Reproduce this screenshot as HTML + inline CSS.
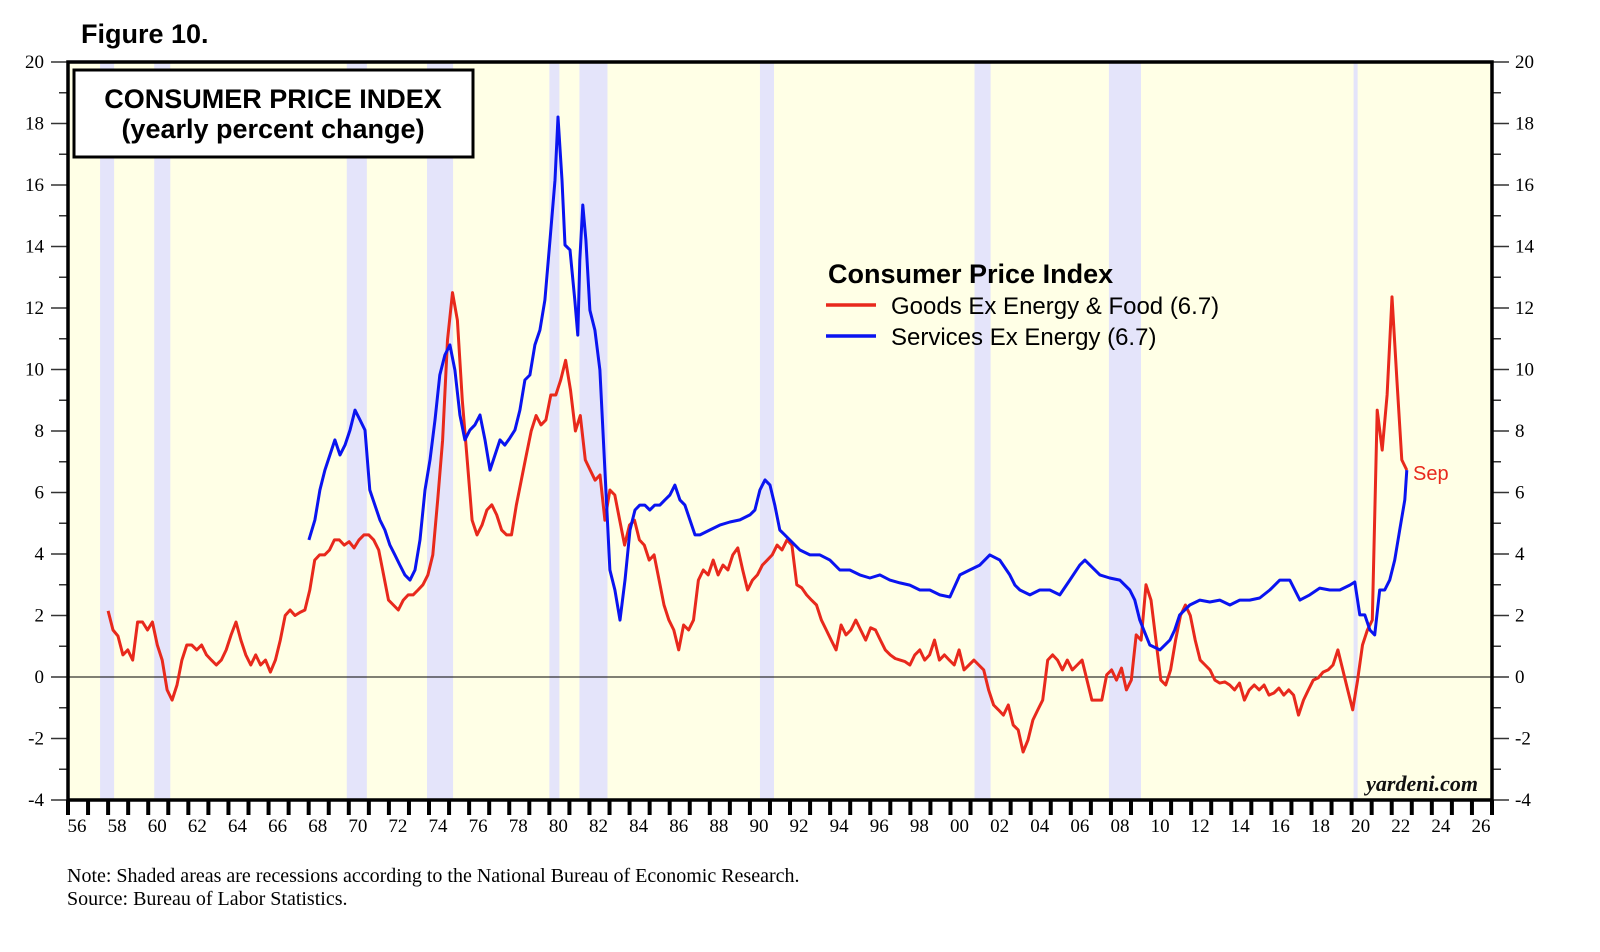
<!DOCTYPE html>
<html><head><meta charset="utf-8">
<style>
body{margin:0;background:#fff;}
svg{display:block;}
</style></head>
<body>
<svg id="chart" width="1600" height="952" viewBox="0 0 1600 952" xmlns="http://www.w3.org/2000/svg">
  <rect width="1600" height="952" fill="#fff"/>
  <text x="81" y="43" font-family="Liberation Sans, sans-serif" font-weight="bold" font-size="27">Figure 10.</text>
  <rect x="68" y="62" width="1424" height="738" fill="#ffffe6"/>
  <g id="recessions"></g>
  <line id="zeroline" x1="68" x2="1492" stroke="#000" stroke-width="1"/>
  <g id="series"></g>
  <g id="axes"></g>
  <rect x="68" y="62" width="1424" height="738" fill="none" stroke="#000" stroke-width="3.5"/>
  <g>
    <rect x="74" y="70" width="399" height="87" fill="#fff" stroke="#000" stroke-width="3"/>
    <text x="273" y="108" text-anchor="middle" font-family="Liberation Sans, sans-serif" font-weight="bold" font-size="27">CONSUMER PRICE INDEX</text>
    <text x="273" y="138" text-anchor="middle" font-family="Liberation Sans, sans-serif" font-weight="bold" font-size="27">(yearly percent change)</text>
  </g>
  <g font-family="Liberation Sans, sans-serif">
    <text x="828" y="283" font-weight="bold" font-size="27">Consumer Price Index</text>
    <line x1="826" x2="876" y1="305" y2="305" stroke="#e8291c" stroke-width="3.5"/>
    <text x="891" y="314" font-size="24">Goods Ex Energy &amp; Food (6.7)</text>
    <line x1="826" x2="876" y1="336" y2="336" stroke="#0a14f0" stroke-width="3.5"/>
    <text x="891" y="345" font-size="24">Services Ex Energy (6.7)</text>
  </g>
  <text x="1413" y="480" fill="#e8291c" font-family="Liberation Sans, sans-serif" font-size="20">Sep</text>
  <text x="1478" y="791" text-anchor="end" font-family="Liberation Serif, serif" font-style="italic" font-weight="bold" font-size="22" fill="#111">yardeni.com</text>
  <text x="67" y="882" font-family="Liberation Serif, serif" font-size="20">Note: Shaded areas are recessions according to the National Bureau of Economic Research.</text>
  <text x="67" y="905" font-family="Liberation Serif, serif" font-size="20">Source: Bureau of Labor Statistics.</text>
</svg>
<script>
// ---- data ----
const recessionStarts = [1957.6, 1960.3, 1969.9, 1973.9, 1980.0, 1981.5, 1990.5, 2001.2, 2007.9, 2020.1];
const recessionEnds   = [1958.3, 1961.1, 1970.9, 1975.2, 1980.5, 1982.9, 1991.2, 2002.0, 2009.5, 2020.3];
const yTicks = [-4,-2,0,2,4,6,8,10,12,14,16,18,20];
const xTickYears = [56,58,60,62,64,66,68,70,72,74,76,78,80,82,84,86,88,90,92,94,96,98,0,2,4,6,8,10,12,14,16,18,20,22,24,26];
const goodsStart = 1958.0;
const goodsEnd = 2022.75;
const goodsValues = [2.15,1.53,1.33,0.72,0.88,0.55,1.79,1.79,1.53,1.79,1.04,0.55,-0.42,-0.75,-0.26,0.55,1.04,1.04,0.88,1.04,0.72,0.55,0.39,0.55,0.88,1.37,1.79,1.2,0.72,0.39,0.72,0.39,0.55,0.16,0.55,1.2,2.0,2.18,2.0,2.1,2.18,2.83,3.8,3.97,3.97,4.13,4.46,4.46,4.29,4.4,4.2,4.46,4.62,4.62,4.46,4.13,3.32,2.5,2.34,2.18,2.5,2.67,2.67,2.83,3.0,3.32,3.97,5.76,7.7,10.96,12.5,11.6,9.0,7.06,5.1,4.62,4.94,5.43,5.6,5.27,4.78,4.62,4.62,5.6,6.4,7.2,8.0,8.5,8.2,8.36,9.17,9.17,9.66,10.3,9.33,8.0,8.5,7.06,6.73,6.4,6.57,5.1,6.08,5.92,5.1,4.29,4.94,5.1,4.46,4.29,3.8,3.97,3.15,2.34,1.85,1.53,0.88,1.69,1.53,1.85,3.15,3.48,3.32,3.8,3.32,3.64,3.48,3.97,4.2,3.48,2.83,3.15,3.32,3.64,3.8,3.97,4.29,4.13,4.46,4.29,3.0,2.9,2.67,2.5,2.34,1.85,1.53,1.2,0.88,1.69,1.37,1.53,1.85,1.53,1.2,1.6,1.53,1.2,0.88,0.72,0.6,0.55,0.5,0.39,0.72,0.88,0.55,0.72,1.2,0.55,0.72,0.55,0.39,0.88,0.23,0.39,0.55,0.39,0.23,-0.42,-0.91,-1.07,-1.24,-0.91,-1.56,-1.72,-2.44,-2.05,-1.4,-1.07,-0.75,0.55,0.72,0.55,0.23,0.55,0.23,0.39,0.55,-0.1,-0.75,-0.75,-0.75,0.07,0.23,-0.1,0.29,-0.42,-0.1,1.37,1.2,3.0,2.5,1.2,-0.1,-0.26,0.23,1.2,2.0,2.34,2.0,1.2,0.55,0.39,0.23,-0.1,-0.2,-0.16,-0.26,-0.42,-0.2,-0.75,-0.42,-0.26,-0.42,-0.26,-0.59,-0.52,-0.36,-0.59,-0.42,-0.59,-1.24,-0.75,-0.42,-0.1,-0.03,0.16,0.23,0.39,0.88,0.23,-0.42,-1.07,-0.1,1.04,1.53,1.85,8.68,7.38,9.17,12.36,9.66,7.06,6.73];
const servicesYears = [1968.01,1968.31,1968.56,1968.81,1969.06,1969.31,1969.56,1969.81,1970.06,1970.31,1970.56,1970.81,1971.05,1971.30,1971.55,1971.80,1972.05,1972.30,1972.55,1972.80,1973.05,1973.30,1973.55,1973.80,1974.05,1974.30,1974.54,1974.79,1975.04,1975.29,1975.54,1975.79,1976.04,1976.29,1976.54,1976.79,1977.04,1977.29,1977.54,1977.78,1978.03,1978.28,1978.53,1978.78,1979.03,1979.28,1979.53,1979.78,1980.03,1980.28,1980.43,1980.63,1980.78,1981.03,1981.27,1981.42,1981.52,1981.67,1981.82,1982.02,1982.27,1982.52,1982.77,1983.02,1983.27,1983.52,1983.77,1984.02,1984.27,1984.51,1984.76,1985.01,1985.26,1985.51,1985.76,1986.01,1986.26,1986.51,1986.76,1987.01,1987.26,1987.51,1988.00,1988.50,1989.00,1989.50,1990.00,1990.25,1990.50,1990.75,1991.00,1991.24,1991.49,1991.74,1991.99,1992.49,1992.99,1993.49,1993.99,1994.48,1994.98,1995.48,1995.98,1996.48,1996.98,1997.48,1997.97,1998.47,1998.97,1999.47,1999.97,2000.47,2000.96,2001.46,2001.96,2002.46,2002.96,2003.21,2003.46,2003.96,2004.45,2004.95,2005.45,2005.95,2006.45,2006.70,2006.95,2007.45,2007.94,2008.44,2008.94,2009.19,2009.44,2009.94,2010.44,2010.94,2011.18,2011.43,2011.93,2012.43,2012.93,2013.43,2013.93,2014.42,2014.92,2015.42,2015.92,2016.42,2016.92,2017.42,2017.91,2018.41,2018.91,2019.41,2019.91,2020.16,2020.41,2020.66,2020.91,2021.15,2021.40,2021.65,2021.90,2022.15,2022.40,2022.65,2022.75];
const servicesValues = [4.46,5.11,6.08,6.73,7.22,7.71,7.22,7.54,8.03,8.68,8.36,8.03,6.08,5.59,5.11,4.78,4.29,3.97,3.64,3.32,3.15,3.48,4.46,6.08,7.06,8.36,9.82,10.47,10.80,9.98,8.52,7.71,8.03,8.20,8.52,7.71,6.73,7.22,7.71,7.54,7.77,8.03,8.68,9.66,9.82,10.80,11.28,12.26,14.21,16.16,18.21,16.16,14.05,13.89,12.26,11.12,13.56,15.35,14.21,11.93,11.28,9.98,6.73,3.48,2.83,1.85,3.15,4.78,5.43,5.59,5.59,5.43,5.59,5.59,5.76,5.92,6.24,5.76,5.59,5.11,4.62,4.62,4.78,4.94,5.04,5.11,5.27,5.43,6.08,6.41,6.24,5.59,4.78,4.62,4.46,4.13,3.97,3.97,3.80,3.48,3.48,3.32,3.22,3.32,3.15,3.06,2.99,2.83,2.83,2.67,2.60,3.32,3.48,3.64,3.97,3.80,3.32,2.99,2.83,2.67,2.83,2.83,2.67,3.15,3.64,3.80,3.64,3.32,3.22,3.15,2.83,2.50,1.85,1.04,0.88,1.20,1.53,2.02,2.34,2.50,2.44,2.50,2.34,2.50,2.50,2.57,2.83,3.15,3.15,2.50,2.67,2.89,2.83,2.83,2.99,3.09,2.02,2.02,1.53,1.37,2.83,2.83,3.15,3.80,4.78,5.76,6.73];

// ---- scales ----
const X0 = 68, X1 = 1492, T0 = 1956, T1 = 2027;
const Y0 = 62, Y1 = 800, V0 = 20, V1 = -4;
function xs(t){ return X0 + (t - T0) / (T1 - T0) * (X1 - X0); }
function ys(v){ return Y0 + (V0 - v) / (V0 - V1) * (Y1 - Y0); }
const NS = 'http://www.w3.org/2000/svg';
function mk(tag, attrs, parent){ const e = document.createElementNS(NS, tag); for (const k in attrs) e.setAttribute(k, attrs[k]); parent.appendChild(e); return e; }

// recessions
const rg = document.getElementById('recessions');
for (let i = 0; i < recessionStarts.length; i++) {
  const r = mk('rect', {x: xs(recessionStarts[i]), y: Y0, width: xs(recessionEnds[i]) - xs(recessionStarts[i]), height: Y1 - Y0, fill: '#e4e4fa'}, rg);
  
  
}
const zl = document.getElementById('zeroline');
zl.setAttribute('y1', ys(0)); zl.setAttribute('y2', ys(0));

// axes
const ax = document.getElementById('axes');
for (let v = V1; v <= V0; v++) {
  const major = v % 2 === 0;
  const len = major ? 17 : 9;
  mk('line', {x1: X0 - len, x2: X0, y1: ys(v), y2: ys(v), stroke: '#333', 'stroke-width': 1.5}, ax);
  mk('line', {x1: X1, x2: X1 + len, y1: ys(v), y2: ys(v), stroke: '#333', 'stroke-width': 1.5}, ax);
}
yTicks.forEach(v => {
  const l = mk('text', {x: 44, y: ys(v) + 6, 'text-anchor': 'end', 'font-family': 'Liberation Serif, serif', 'font-size': 19}, ax);
  l.textContent = v;
  
  
  const r = mk('text', {x: 1515, y: ys(v) + 6, 'font-family': 'Liberation Serif, serif', 'font-size': 19}, ax);
  r.textContent = v;
  
  
});
for (let t = T0; t <= T1; t++) {
  mk('line', {x1: xs(t), x2: xs(t), y1: Y1, y2: Y1 + 15, stroke: '#000', 'stroke-width': 4}, ax);
}
xTickYears.forEach((yy, i) => {
  const full = T0 + i * 2;
  const l = mk('text', {x: xs(full + 0.45), y: 832, 'text-anchor': 'middle', 'font-family': 'Liberation Serif, serif', 'font-size': 19}, ax);
  l.textContent = (yy < 10 ? '0' : '') + yy;
  
  
});

// series
const sg = document.getElementById('series');
const gStep = (goodsEnd - goodsStart) / (goodsValues.length - 1);
let d = '';
goodsValues.forEach((v, i) => { d += (i ? 'L' : 'M') + xs(goodsStart + i * gStep).toFixed(1) + ',' + ys(v).toFixed(1); });
const gp = mk('path', {d: d, fill: 'none', stroke: '#e8291c', 'stroke-width': 3, 'stroke-linejoin': 'round'}, sg);


d = '';
servicesValues.forEach((v, i) => { d += (i ? 'L' : 'M') + xs(servicesYears[i]).toFixed(1) + ',' + ys(v).toFixed(1); });
const sp = mk('path', {d: d, fill: 'none', stroke: '#0a14f0', 'stroke-width': 3, 'stroke-linejoin': 'round'}, sg);


</script>
</body></html>
